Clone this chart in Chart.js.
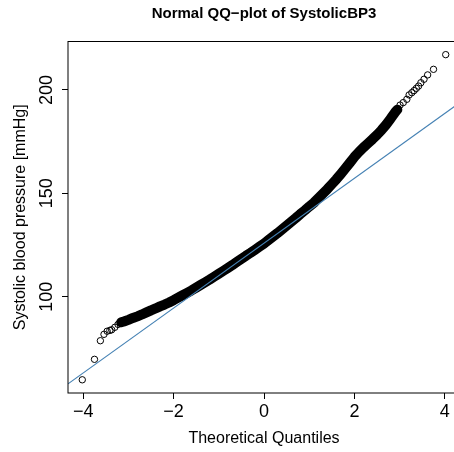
<!DOCTYPE html>
<html><head><meta charset="utf-8">
<script src="https://cdn.jsdelivr.net/npm/chart.js@4/dist/chart.umd.min.js"></script>
<style>html,body{margin:0;padding:0;overflow:hidden;background:#fff;width:454px;height:452px}canvas{display:block}</style>
</head><body><canvas id="c" width="470" height="452"></canvas>
<script>
// Theoretical quantiles (x) and sample quantiles (y, mmHg)
const theoreticalQuantiles = [
  -4.02,-3.75,-3.62,-3.54,-3.47,-3.41,-3.37,-3.30,-3.23,-3.16,
  -3.1,-3.0,-2.9,-2.8,-2.7,-2.6,-2.5,-2.4,-2.3,-2.2,-2.1,-2.0,-1.9,-1.8,-1.7,-1.6,
  -1.5,-1.4,-1.3,-1.2,-1.1,-1.0,-0.9,-0.8,-0.7,-0.6,-0.5,-0.4,-0.3,-0.2,-0.1,0.0,
  0.1,0.2,0.3,0.4,0.5,0.6,0.7,0.8,0.9,1.0,1.1,1.2,1.3,1.4,1.5,1.6,1.7,1.8,1.9,2.0,
  2.1,2.2,2.3,2.4,2.5,2.6,2.7,2.8,2.9,2.95,
  3.01,3.08,3.16,3.21,3.27,3.32,3.37,3.42,3.47,3.54,3.62,3.75,4.02
];
const systolicBP = [
  59.8,69.7,78.7,81.8,83.3,83.7,84.0,85.2,86.6,87.6,
  88.0,88.8,89.7,90.5,91.4,92.4,93.4,94.3,95.3,96.2,97.2,98.3,99.5,100.7,101.9,103.1,
  104.4,105.7,107.0,108.3,109.7,111.1,112.5,113.9,115.3,116.8,118.3,119.8,121.2,122.7,124.2,125.7,
  127.4,129.1,130.8,132.6,134.4,136.2,138.0,139.9,141.7,143.6,145.4,147.6,149.8,152.0,154.4,156.8,159.4,162.1,164.8,167.6,
  170.0,172.2,174.2,176.2,178.3,180.6,183.2,186.1,189.2,190.5,
  192.7,193.9,195.5,197.6,198.7,199.7,200.8,201.9,203.5,205.2,207.3,210.0,217.1
];
// Reference line (qqline)
const qqLineIntercept = 125.9;
const qqLineSlope = 15.7;
// Axis ticks
const xTickValues = [-4,-2,0,2,4];
const xTickLabels = ['\u22124','\u22122','0','2','4'];
const yTickValues = [100,150,200];
const yTickLabels = ['100','150','200'];
const titleText = 'Normal QQ\u2212plot of SystolicBP3';
const xTitle = 'Theoretical Quantiles';
const yTitle = 'Systolic blood pressure [mmHg]';

// ---- styling / layout ----
const FONT = "'Liberation Sans', Arial, Helvetica, sans-serif";
const X_MIN = -4.336, X_MAX = 4.336, Y_MIN = 53.41, Y_MAX = 223.46;
const DENSE_FROM = -3.16, DENSE_TO = 2.95;

const points = theoreticalQuantiles.map((x, i) => ({x, y: systolicBP[i]}));
const dense = points.filter(p => p.x >= DENSE_FROM && p.x <= DENSE_TO);
const lineData = [X_MIN, X_MAX].map(x => ({x, y: qqLineIntercept + qqLineSlope * x}));

const boxPlugin = {
  id: 'box',
  afterDraw(chart) {
    const {ctx, chartArea: a} = chart;
    ctx.save();
    ctx.strokeStyle = '#000';
    ctx.lineWidth = 1;
    ctx.strokeRect(a.left, a.top, a.right - a.left, a.bottom - a.top);
    ctx.restore();
  }
};

new Chart(document.getElementById('c'), {
  type: 'scatter',
  data: {
    datasets: [
      {
        type: 'line', label: 'qqline', data: lineData, order: 0,
        borderColor: '#4682B4', borderWidth: 1.2, pointRadius: 0, tension: 0, fill: false
      },
      {
        label: 'sample', data: points, order: 1, showLine: false,
        pointRadius: 3.2, pointBorderWidth: 1, pointBorderColor: '#000',
        pointBackgroundColor: 'rgba(0,0,0,0)', pointHoverRadius: 3.2
      },
      {
        type: 'line', label: 'dense', data: dense, order: 2,
        borderColor: '#000', borderWidth: 10, pointRadius: 0, tension: 0, fill: false,
        borderCapStyle: 'round', borderJoinStyle: 'round'
      }
    ]
  },
  options: {
    responsive: false, animation: false, devicePixelRatio: 1,
    layout: {padding: {left: 0, right: 10, top: 0, bottom: 0}},
    plugins: {
      legend: {display: false}, tooltip: {enabled: false},
      title: {
        display: true, fullSize: false, text: titleText, color: '#000',
        font: {family: FONT, size: 15, weight: 'bold', lineHeight: 1.2},
        padding: {top: 4.8, bottom: 18.7}
      }
    },
    scales: {
      x: {
        type: 'linear', min: X_MIN, max: X_MAX,
        afterBuildTicks: s => { s.ticks = xTickValues.map(v => ({value: v})); },
        afterFit: s => { s.height = 59; },
        ticks: {
          autoSkip: false, maxRotation: 0, minRotation: 0, padding: 2.2, color: '#000',
          font: {family: FONT, size: 18},
          callback: v => xTickLabels[xTickValues.indexOf(v)]
        },
        grid: {display: true, drawOnChartArea: false, drawTicks: true, tickLength: 6, color: '#000', tickWidth: 1},
        border: {display: false},
        title: {display: true, text: xTitle, color: '#000', font: {family: FONT, size: 16}, padding: {top: 0, bottom: 3.4}}
      },
      y: {
        type: 'linear', min: Y_MIN, max: Y_MAX,
        afterBuildTicks: s => { s.ticks = yTickValues.map(v => ({value: v})); },
        afterFit: s => { s.width = 68; },
        ticks: {
          autoSkip: false, minRotation: 90, maxRotation: 90, crossAlign: 'center', padding: 0, color: '#000',
          font: {family: FONT, size: 18},
          callback: v => yTickLabels[yTickValues.indexOf(v)]
        },
        grid: {display: true, drawOnChartArea: false, drawTicks: true, tickLength: 6, color: '#000', tickWidth: 1},
        border: {display: false},
        title: {display: true, text: yTitle, color: '#000', font: {family: FONT, size: 16}, padding: {top: 11.4, bottom: 0}}
      }
    }
  },
  plugins: [boxPlugin]
});
</script>
</body></html>
